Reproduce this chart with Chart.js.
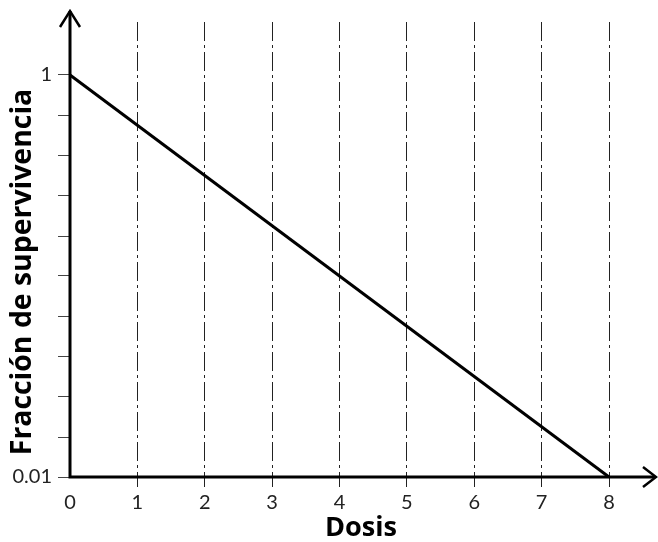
<!DOCTYPE html>
<html>
<head>
<meta charset="utf-8">
<script src="https://cdn.jsdelivr.net/npm/chart.js@4.4.1/dist/chart.umd.min.js"></script>
<style>
  html, body { margin: 0; padding: 0; background: #fff; }
</style>
</head>
<body>
<canvas id="survivalChart" width="658" height="542"></canvas>
<script>
// Survival fraction vs dose (log scale on y)
const doses = [0, 8];
const survival = [1, 0.01];
const xTickValues = [0, 1, 2, 3, 4, 5, 6, 7, 8];
const yTickValues = [0.01, 0.0158, 0.0251, 0.0398, 0.0631, 0.1, 0.158, 0.251, 0.398, 0.631, 1];
const yTickLabels = { 0.01: '0.01', 1: '1' };
const xTitle = 'Dosis';
const yTitle = 'Fracción de supervivencia';

Chart.defaults.font.family = 'Lato, "Open Sans", sans-serif';

// axis lines with arrow heads, drawn on top of the plot
const axesPlugin = {
    id: 'axesArrows',
    afterDatasetsDraw(chart) {
        const { ctx, scales: { x, y } } = chart;
        const x0 = x.getPixelForValue(0);
        const y0 = y.getPixelForValue(0.01);
        const right = chart.width - 2;
        ctx.save();
        ctx.strokeStyle = '#000';
        ctx.lineWidth = 3;
        ctx.beginPath();
        ctx.moveTo(x0, y0 + 1.5);
        ctx.lineTo(x0, 11);
        ctx.moveTo(x0 - 1.5, y0);
        ctx.lineTo(right - 1, y0);
        ctx.stroke();

        ctx.lineWidth = 2.5;
        ctx.beginPath();
        ctx.moveTo(x0 - 10, 27);
        ctx.lineTo(x0, 11);
        ctx.lineTo(x0 + 10, 27);
        ctx.moveTo(right - 13, y0 - 10);
        ctx.lineTo(right, y0);
        ctx.lineTo(right - 13, y0 + 10);
        ctx.stroke();
        ctx.restore();
    }
};

// font size that makes a bold title span the wanted width
function fitFont(ctx, text, width) {
    ctx.font = 'bold 20px "Open Sans", sans-serif';
    const size = 20 * width / ctx.measureText(text).width;
    return 'bold ' + size.toFixed(1) + 'px "Open Sans", sans-serif';
}

// axis titles
const titlesPlugin = {
    id: 'axisTitles',
    afterDraw(chart) {
        const { ctx, chartArea, scales: { y } } = chart;
        const midY = (y.getPixelForValue(1) + y.getPixelForValue(0.01)) / 2 - 4;
        ctx.save();
        ctx.fillStyle = '#000';
        ctx.font = fitFont(ctx, yTitle, 367);
        ctx.textAlign = 'center';
        ctx.textBaseline = 'middle';
        ctx.translate(23, midY);
        ctx.rotate(-Math.PI / 2);
        ctx.fillText(yTitle, 0, 0);
        ctx.restore();

        ctx.save();
        ctx.fillStyle = '#000';
        ctx.font = fitFont(ctx, xTitle, 72);
        ctx.textAlign = 'center';
        ctx.textBaseline = 'middle';
        ctx.fillText(xTitle, chartArea.left + 291, 528);
        ctx.restore();
    }
};

const canvas = document.getElementById('survivalChart');
new Chart(canvas, {
    type: 'line',
    data: {
        datasets: [{
            data: doses.map((d, i) => ({ x: d, y: survival[i] })),
            borderColor: '#000',
            borderWidth: 3,
            pointRadius: 0,
            tension: 0,
            clip: false
        }]
    },
    options: {
        responsive: false,
        animation: false,
        layout: { padding: { top: 22, right: 49, left: 0, bottom: 0 } },
        plugins: {
            legend: { display: false },
            tooltip: { enabled: false }
        },
        scales: {
            x: {
                type: 'linear',
                min: 0,
                max: 8,
                afterBuildTicks: scale => { scale.ticks = xTickValues.map(v => ({ value: v })); },
                afterFit: scale => { scale.height = 65; },
                ticks: {
                    color: '#222',
                    font: { size: 20 },
                    padding: 4,
                    autoSkip: false,
                    maxRotation: 0
                },
                grid: {
                    color: c => (c.tick && c.tick.value === 0) ? 'rgba(0,0,0,0)' : '#222',
                    tickColor: c => (c.tick && c.tick.value === 0) ? 'rgba(0,0,0,0)' : '#222',
                    lineWidth: 1,
                    tickLength: 10
                },
                border: { display: false, dash: [19, 4, 3, 4] }
            },
            y: {
                type: 'logarithmic',
                min: 0.01,
                max: 1.835,
                afterBuildTicks: scale => { scale.ticks = yTickValues.map(v => ({ value: v })); },
                afterFit: scale => { scale.width = 70; },
                ticks: {
                    color: '#222',
                    font: { size: 20 },
                    padding: 6,
                    autoSkip: false,
                    callback: v => yTickLabels[v] || ''
                },
                grid: {
                    drawOnChartArea: false,
                    tickColor: '#444',
                    lineWidth: 1,
                    tickLength: 12
                },
                border: { display: false }
            }
        }
    },
    plugins: [axesPlugin, titlesPlugin]
});
</script>
</body>
</html>
